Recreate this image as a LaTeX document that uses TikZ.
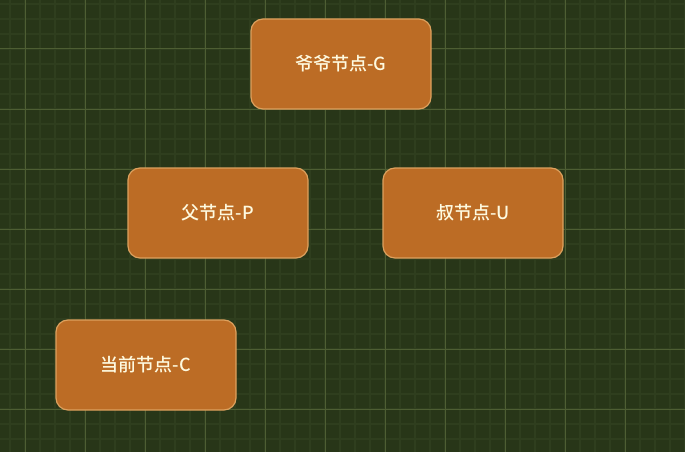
\documentclass[tikz,border=0pt]{standalone}
\usepackage{fontspec}
\setmainfont{Noto Sans CJK SC}[UprightFont=* Medium]
\definecolor{bgc}{HTML}{283618}
\definecolor{majorc}{HTML}{4E5E33}
\definecolor{minorc}{HTML}{2F3E1E}
\definecolor{boxfill}{HTML}{BC6C25}
\definecolor{boxedge}{HTML}{DDA15E}
\definecolor{txt}{HTML}{FEFAE0}
\tikzset{
  treenode/.style={draw=boxedge, line width=1.2pt, fill=boxfill, rounded corners=12pt,
    minimum width=180pt, minimum height=90pt, inner sep=0pt, text=txt,
    font=\fontsize{18pt}{20pt}\selectfont},
}
\begin{document}
\begin{tikzpicture}[x=1pt,y=-1pt]
\fill[bgc] (0,0) rectangle (685,452);
\useasboundingbox (0,0) rectangle (685,452);
\foreach \x in {10,25,...,685} \draw[minorc, line width=1.5pt] (\x,0) -- (\x,452);
\foreach \y in {4,19,...,452} \draw[minorc, line width=1.5pt] (0,\y) -- (685,\y);
\foreach \x in {25,85,...,685} \draw[majorc, line width=1pt] (\x,0) -- (\x,452);
\foreach \y in {49,109,...,452} \draw[majorc, line width=1pt] (0,\y) -- (685,\y);
\node[treenode] (G) at (341,64) {爷爷节点-G};
\node[treenode] (P) at (218,213) {父节点-P};
\node[treenode] (U) at (473,213) {叔节点-U};
\node[treenode] (C) at (146,365) {当前节点-C};
\end{tikzpicture}
\end{document}
